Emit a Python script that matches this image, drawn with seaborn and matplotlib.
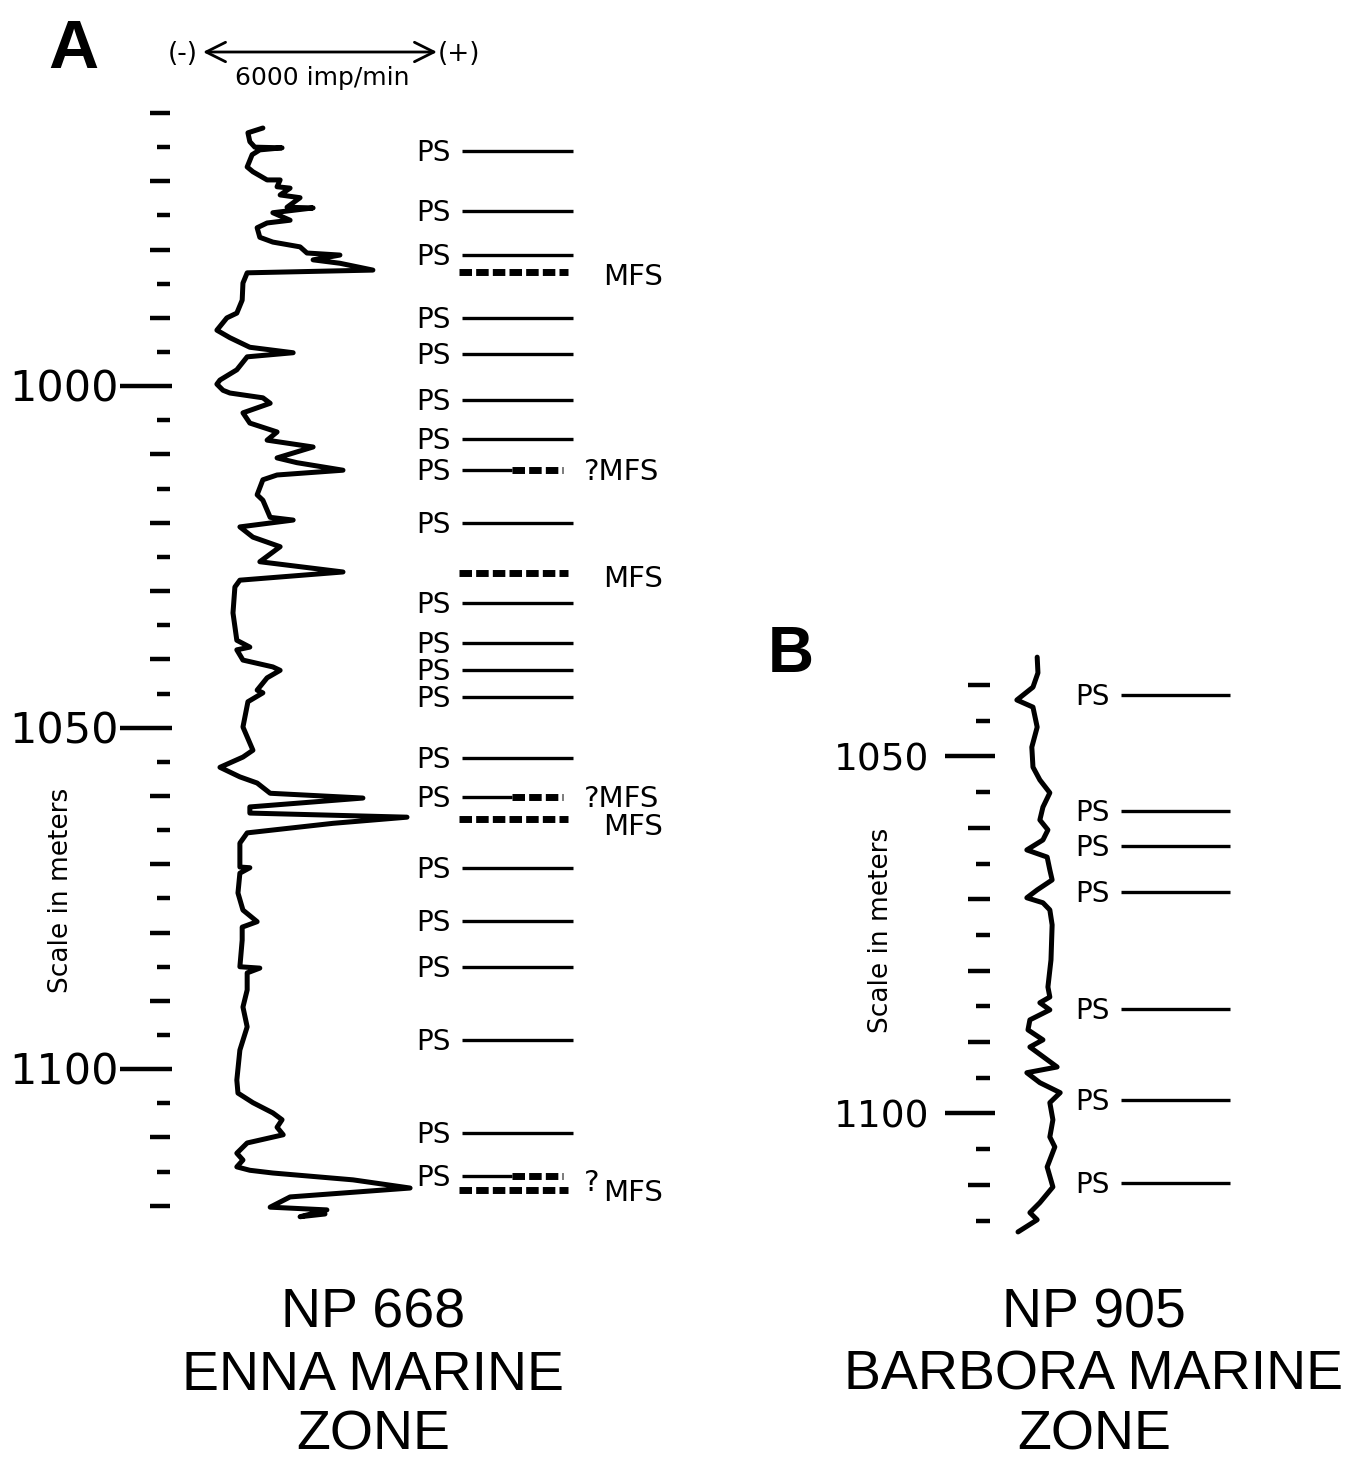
import numpy as np
import matplotlib
matplotlib.use("Agg")
import matplotlib.pyplot as plt
import seaborn as sns


# Gamma log NP 668 (depth m / imp/min relative to the (-) end of the scale bar)
depth_a = [962.2, 962.9, 964.2, 965.0, 965.1, 965.4, 966.1, 967.9, 968.6, 969.8,
           969.8, 970.8, 971.0, 972.0, 972.4, 973.8, 973.9, 974.6, 975.7, 976.1,
           976.8, 978.2, 978.9, 979.6, 980.5, 980.8, 981.5, 982.0, 983.0, 983.4,
           984.9, 987.4, 989.3, 990.0, 991.8, 992.9, 994.3, 995.1, 995.7, 997.6,
           999.1, 999.7, 1000.6, 1001.0, 1001.7, 1002.5, 1003.9, 1005.4, 1006.7, 1007.9,
           1008.9, 1010.5, 1011.2, 1012.3, 1013.0, 1013.7, 1015.9, 1016.7, 1019.2, 1019.6,
           1020.6, 1022.1, 1023.5, 1025.7, 1027.2, 1028.4, 1029.4, 1033.2, 1037.2, 1038.2,
           1038.6, 1040.1, 1041.1, 1041.6, 1042.7, 1044.5, 1044.9, 1046.2, 1049.9, 1053.3,
           1054.3, 1055.8, 1057.2, 1058.1, 1059.6, 1060.3, 1061.6, 1062.5, 1063.1, 1064.0,
           1065.4, 1066.9, 1070.4, 1070.5, 1071.3, 1074.2, 1076.7, 1078.4, 1079.2, 1081.1,
           1085.0, 1085.2, 1085.9, 1088.4, 1090.9, 1093.8, 1097.2, 1101.6, 1103.5, 1104.9,
           1106.4, 1107.4, 1108.5, 1109.6, 1110.8, 1112.3, 1113.3, 1114.3, 1114.8, 1115.2,
           1116.2, 1117.4, 1118.7, 1120.2, 1120.6, 1121.6, 1121.2]
gr_a = [1510, 1120, 1170, 1300, 2010, 1430, 1230, 1100, 1250, 1620,
        1960, 1880, 2220, 1960, 2480, 2140, 2820, 1770, 2220, 1620,
        1360, 1430, 1770, 2480, 2660, 3520, 2820, 3520, 4380, 1100,
        990, 970, 830, 570, 310, 650, 1170, 2300, 1100, 830,
        390, 310, 470, 650, 1510, 1700, 990, 1170, 1880, 1620,
        2820, 1880, 2400, 3600, 1880, 1510, 1360, 1510, 1700, 2300,
        910, 1250, 1960, 1430, 3600, 910, 780, 730, 830, 1170,
        830, 990, 1770, 1960, 1620, 1360, 1510, 1120, 990, 1250,
        990, 390, 910, 1360, 1700, 4120, 1170, 1170, 5270, 3340,
        1100, 910, 910, 1170, 910, 860, 990, 1360, 970, 970,
        910, 1430, 1100, 1100, 990, 1100, 910, 830, 860, 1250,
        1770, 2010, 1880, 2040, 1100, 830, 990, 830, 1170, 1770,
        3860, 5350, 2220, 1700, 3180, 2480, 3130]

# Gamma log NP 905
depth_b = [1036.1, 1038.3, 1040.3, 1042.1, 1043.1, 1045.9, 1048.7, 1051.5, 1053.3, 1055.1,
           1057.1, 1058.9, 1060.3, 1061.7, 1063.1, 1064.1, 1065.9, 1067.3, 1068.7, 1069.8,
           1070.5, 1071.5, 1073.6, 1078.5, 1082.3, 1083.7, 1084.5, 1085.5, 1086.9, 1088.3,
           1089.7, 1090.7, 1093.5, 1094.3, 1095.7, 1097.1, 1098.5, 1100.9, 1103.3, 1104.7,
           1107.5, 1110.3, 1112.5, 1113.9, 1114.9, 1116.6]
gr_b = [970, 990, 860, 440, 860, 970, 830, 860, 1040, 1300,
        1120, 1040, 1250, 1120, 700, 1230, 1300, 1360, 970, 700,
        1120, 1300, 1360, 1330, 1250, 1300, 1040, 1300, 780, 730,
        1120, 780, 1490, 700, 1040, 1570, 1300, 1380, 1300, 1430,
        1230, 1380, 1040, 780, 970, 470]

# surfaces
ps_a = [965.6, 974.4, 980.8, 990.0, 995.3, 1002.0, 1007.7, 1020.0, 1031.7, 1037.6,
        1041.6, 1045.5, 1054.4, 1070.5, 1078.3, 1085.0, 1095.7, 1109.3]
ps_qmfs_a = [1012.3, 1060.2, 1115.6]
qmfs_labels = ["?MFS", "?MFS", "?"]
mfs_a = [983.3, 1027.4, 1063.4, 1117.7]
ps_b = [1041.4, 1057.6, 1062.5, 1069.0, 1085.4, 1098.1, 1109.7]

major_a = [1000, 1050, 1100]
major_b = [1050, 1100]

W, H = 1357, 1463
IMP_PX = 230 / 6000          # scale bar: 6000 imp/min over 230 px

sns.set_style("white")
plt.rcParams["font.family"] = ["DejaVu Sans"]
plt.rcParams["text.color"] = "black"

fig = plt.figure(figsize=(W / 100, H / 100), dpi=100)


def make_axes(box, x_org, d_ref, y_ref, ppm):
    x0, y0, x1, y1 = box
    ax = fig.add_axes([x0 / W, 1 - y1 / H, (x1 - x0) / W, (y1 - y0) / H])
    lims = ((x0 - x_org) / IMP_PX, (x1 - x_org) / IMP_PX,
            d_ref + (y1 - y_ref) / ppm, d_ref + (y0 - y_ref) / ppm)
    return ax, lims


def finish(ax, lims):
    ax.set_xlim(lims[0], lims[1])
    ax.set_ylim(lims[2], lims[3])
    ax.set_axis_off()


def ftext(x, y, s, **kw):
    fig.text(x / W, 1 - y / H, s, **kw)


def mid_label(ax, x, d, s, size, dy=0, **kw):
    # vertically centre the caps of s on depth d
    cap = 0.729 * size * 100 / 72
    ax.annotate(s, (x, d), xytext=(0, -cap / 2 - dy), textcoords="offset pixels",
                ha=kw.pop("ha", "left"), va="baseline", fontsize=size, **kw)


# ---------- panel A ----------
XA = 205
xa = lambda px: (px - XA) / IMP_PX
axA, limA = make_axes((0, 0, 720, 1280), XA, 960, 113, 6.83)

sns.lineplot(x=gr_a, y=depth_a, sort=False, estimator=None, color="black",
             lw=3.6, ax=axA)

ticks = np.arange(960, 1121, 5)
long_a = [t for t in ticks if t % 10 == 0 and t not in major_a]
short_a = [t for t in ticks if t % 10 == 5]
axA.hlines(long_a, xa(150), xa(170), color="black", lw=3.2)
axA.hlines(short_a, xa(157), xa(170), color="black", lw=3.2)
axA.hlines(major_a, xa(120), xa(172), color="black", lw=3.2)
for d in major_a:
    mid_label(axA, xa(119), d, str(d), 31, ha="right")

axA.hlines(ps_a, xa(462), xa(573), color="black", lw=2.4)
for d in ps_a + ps_qmfs_a:
    mid_label(axA, xa(416), d, "PS", 20)

axA.hlines(ps_qmfs_a, xa(462), xa(512), color="black", lw=2.4)
axA.hlines(ps_qmfs_a, xa(512), xa(563), color="black", lw=5,
           linestyles=[(0, (1.8, 0.6))])
for d, s in zip(ps_qmfs_a, qmfs_labels):
    mid_label(axA, xa(584), d, s, 21, dy=-1 if s != "?" else 5)

axA.hlines(mfs_a, xa(459), xa(568), color="black", lw=5,
           linestyles=[(0, (1.8, 0.6))])
for d, off in zip(mfs_a, [2, 3, 5, 0]):
    mid_label(axA, xa(603), d, "MFS", 21, dy=off)

finish(axA, limA)

axA.annotate("", xy=(437, H - 52), xycoords="figure pixels",
             xytext=(203, H - 52), textcoords="figure pixels",
             arrowprops=dict(arrowstyle="<->,head_length=0.7,head_width=0.35",
                             lw=2, color="black", mutation_scale=20,
                             shrinkA=0, shrinkB=0))
ftext(183, 54, "(-)", fontsize=19, ha="center", va="center")
ftext(459, 54, "(+)", fontsize=19, ha="center", va="center")
ftext(322, 85, "6000 imp/min", fontsize=18, ha="center", va="baseline")
ftext(61, 890, "Scale in meters", fontsize=19, rotation=90, ha="center", va="center")
ftext(48, 68, "A", fontsize=50, fontweight="bold", family="Liberation Sans",
      va="baseline")

# ---------- panel B ----------
XB = 1000
xb = lambda px: (px - XB) / IMP_PX
axB, limB = make_axes((720, 600, 1357, 1280), XB, 1040, 685, 7.14)

sns.lineplot(x=gr_b, y=depth_b, sort=False, estimator=None, color="black",
             lw=3.6, ax=axB)

ticks = np.arange(1040, 1116, 5)
long_b = [t for t in ticks if t % 10 == 0 and t not in major_b]
short_b = [t for t in ticks if t % 10 == 5]
axB.hlines(long_b, xb(968), xb(990), color="black", lw=3.2)
axB.hlines(short_b, xb(976), xb(990), color="black", lw=3.2)
axB.hlines(major_b, xb(945), xb(995), color="black", lw=3.2)
for d in major_b:
    mid_label(axB, xb(929), d, str(d), 27, ha="right")

axB.hlines(ps_b, xb(1121), xb(1230), color="black", lw=2.4)
for d in ps_b:
    mid_label(axB, xb(1075), d, "PS", 20)

finish(axB, limB)

ftext(881, 930, "Scale in meters", fontsize=19, rotation=90, ha="center", va="center")
ftext(768, 672, "B", fontsize=46, fontweight="bold", family="Liberation Sans",
      va="baseline")

# ---------- titles ----------
for lines, xc in [(["NP 668", "ENNA MARINE", "ZONE"], 373),
                  (["NP 905", "BARBORA MARINE", "ZONE"], 1094)]:
    for s, yb in zip(lines, [1327, 1390, 1450]):
        ftext(xc, yb, s, fontsize=40, family="Liberation Sans", ha="center",
              va="baseline")

fig.savefig("out.png", dpi=100)
